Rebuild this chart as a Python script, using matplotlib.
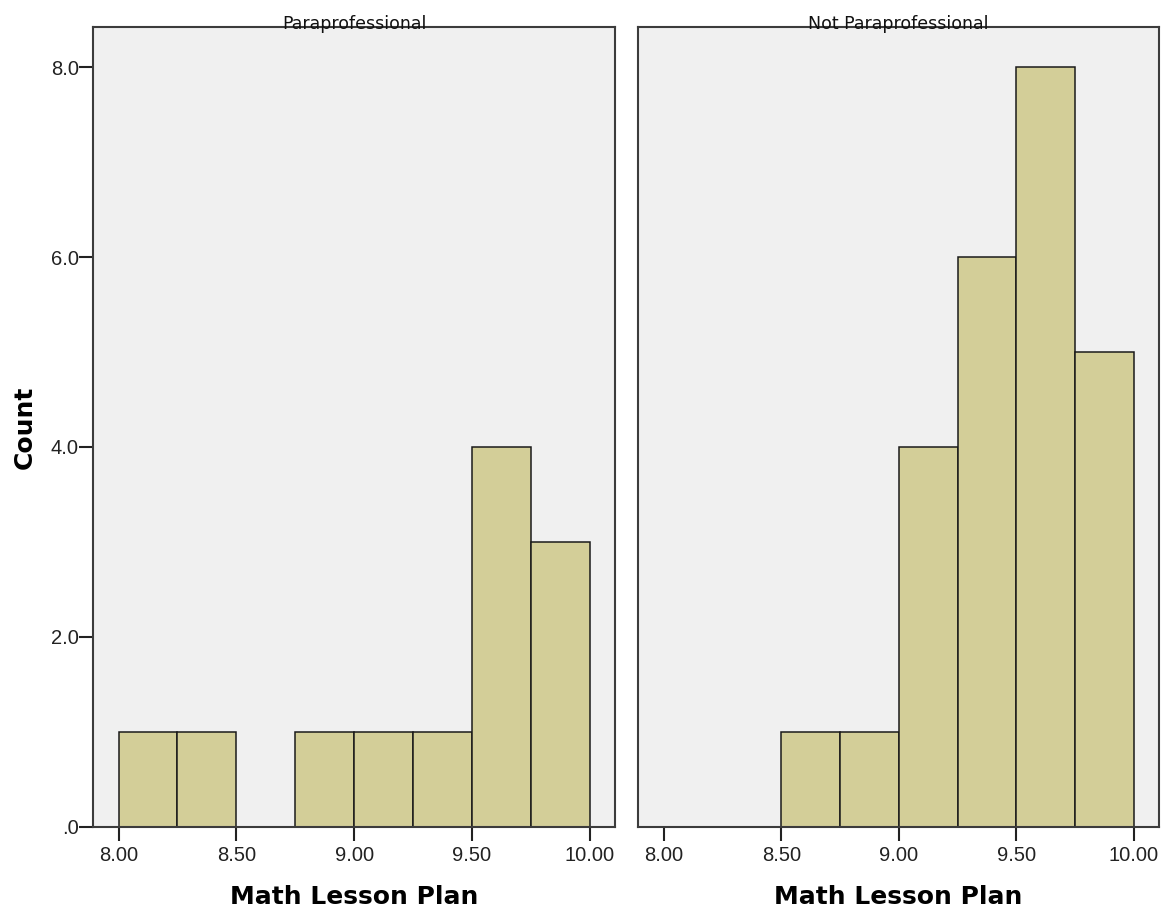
import numpy as np
import matplotlib
matplotlib.use("Agg")
import matplotlib.pyplot as plt
from matplotlib.transforms import offset_copy

# histogram bins (Math Lesson Plan score), width 0.25
bin_lefts = [8.00, 8.25, 8.50, 8.75, 9.00, 9.25, 9.50, 9.75]
bin_width = 0.25

panel_titles = ["Paraprofessional", "Not Paraprofessional"]
counts_para = [1, 1, 0, 1, 1, 1, 4, 3]
counts_not_para = [0, 0, 1, 1, 4, 6, 8, 5]

x_ticks = [8.0, 8.5, 9.0, 9.5, 10.0]
x_tick_labels = ["8.00", "8.50", "9.00", "9.50", "10.00"]
y_ticks = [0, 2, 4, 6, 8]
y_tick_labels = [".0", "2.0", "4.0", "6.0", "8.0"]

BAR_COLOR = "#d3ce98"
BG_COLOR = "#f0f0f0"
SPINE_COLOR = "#3c3c3c"

fig = plt.figure(figsize=(11.64, 9.17), dpi=100)
fig.patch.set_facecolor("white")

ax_left = fig.add_axes([0.0796, 0.0985, 0.4490, 0.8717])
ax_right = fig.add_axes([0.5479, 0.0985, 0.4481, 0.8717])

for ax, title, counts in [(ax_left, panel_titles[0], counts_para),
                          (ax_right, panel_titles[1], counts_not_para)]:
    ax.set_facecolor(BG_COLOR)
    ax.bar(bin_lefts, counts, width=bin_width, align="edge",
           color=BAR_COLOR, edgecolor="#1a1a1a", linewidth=1.1, zorder=2)
    ax.set_xlim(7.89, 10.108)
    ax.set_ylim(0, 8.42)
    ax.set_xticks(x_ticks)
    ax.set_xticklabels(x_tick_labels, fontsize=14.5, family="Liberation Sans", color="#222222")
    for s in ax.spines.values():
        s.set_color(SPINE_COLOR)
        s.set_linewidth(1.5)
    ax.tick_params(axis="x", length=10, width=1.5, color="#222222", pad=4)
    ax.tick_params(axis="y", length=10, width=1.5, color="#222222", pad=0)
    # panel title sits right on the top border, like SPSS does it
    tr = offset_copy(ax.transAxes, fig=fig, x=0, y=-1, units="points")
    ax.text(0.5, 1.0, title, transform=tr, ha="center", va="baseline",
            fontsize=12.5, family="DejaVu Sans", color="#111111", zorder=5)
    ax.set_xlabel("Math Lesson Plan", fontsize=18, fontweight="bold", labelpad=14)

ax_left.set_yticks(y_ticks)
ax_left.set_yticklabels(y_tick_labels, fontsize=14.5, family="Liberation Sans", color="#222222")
ax_left.set_ylabel("Count", fontsize=18, fontweight="bold", labelpad=10)

ax_right.set_yticks([])

fig.savefig("out.png", dpi=100, facecolor="white")
